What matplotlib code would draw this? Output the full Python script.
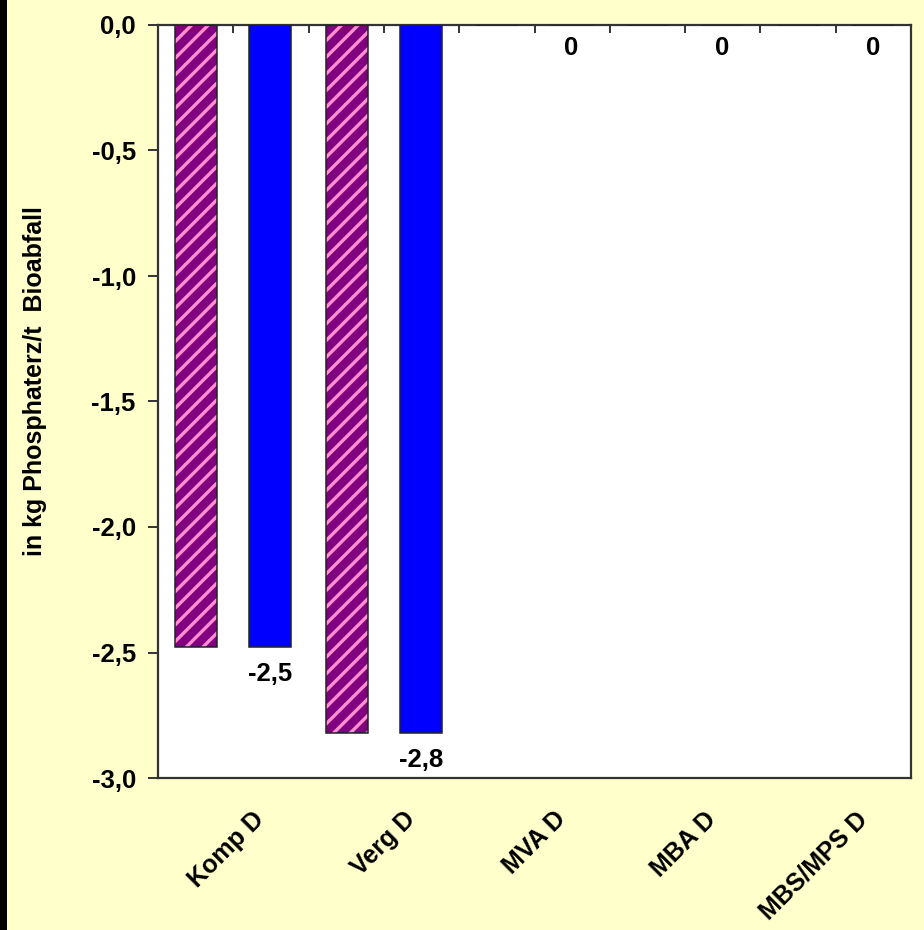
import matplotlib
matplotlib.use("Agg")
import matplotlib.pyplot as plt
import matplotlib.transforms as mtransforms
from matplotlib.patches import Rectangle
from matplotlib.ticker import FuncFormatter, FixedLocator

# data
categories = ["Komp D", "Verg D", "MVA D", "MBA D", "MBS/MPS D"]
hatched_vals = [-2.48, -2.82, 0, 0, 0]
blue_vals = [-2.48, -2.82, 0, 0, 0]
blue_labels = ["-2,5", "-2,8", "0", "0", "0"]
ylabel = "in kg Phosphaterz/t  Bioabfall"

bg = "#FFFFCC"
purple = "#800080"
pink = "#FF8FD0"
blue = "#0000FF"
frame = "#333333"

plt.rcParams["font.family"] = ["Liberation Sans", "DejaVu Sans"]
plt.rcParams["font.weight"] = "bold"
plt.rcParams["hatch.linewidth"] = 2.4

fig = plt.figure(figsize=(9.24, 9.30), dpi=100, facecolor=bg)
ax = fig.add_axes([158 / 924, 1 - 778 / 930, 753 / 924, 753 / 930])
ax.set_facecolor("white")

# black strip on the left edge
fig.patches.append(Rectangle((0, 0), 7 / 924, 1, transform=fig.transFigure,
                             facecolor="black", edgecolor="none"))

x = list(range(len(categories)))
off = 0.246
w = 0.279
xh = [i - off for i in x]
xb = [i + off for i in x]

# hatched bars: purple with pink stripes, then black outline
ax.bar(xh, hatched_vals, width=w, color=purple, edgecolor=pink, hatch="//",
       linewidth=0, zorder=2)
ax.bar(xh, hatched_vals, width=w, fill=False, edgecolor="#222222",
       linewidth=1.1, zorder=3)
ax.bar(xb, blue_vals, width=w, color=blue, edgecolor="#222222",
       linewidth=1.1, zorder=3)

for xi, v, lab in zip(xb, blue_vals, blue_labels):
    dy = -23 if v == 0 else -27
    ax.annotate(lab, (xi, v), xytext=(0, dy * 0.72), textcoords="offset points",
                ha="center", va="center", fontsize=18.5, fontweight="bold")

ax.set_xlim(-0.5, 4.5)
ax.set_ylim(-3.0, 0.0)
ax.set_yticks([0, -0.5, -1.0, -1.5, -2.0, -2.5, -3.0])
ax.yaxis.set_major_formatter(FuncFormatter(lambda v, p: f"{v:.1f}".replace(".", ",").replace("-0,0", "0,0")))
ax.tick_params(axis="y", direction="out", length=7, width=1.4, color=frame,
               labelsize=18.5, pad=9)

ax.set_xticks(x)
ax.set_xticklabels(categories, rotation=45, ha="right", rotation_mode="anchor",
                   fontsize=18)
ax.xaxis.remove_overlapping_locs = False
ax.xaxis.set_minor_locator(FixedLocator([i * 0.5 for i in range(9)]))
ax.tick_params(axis="x", which="major", length=0, pad=21)
ax.tick_params(axis="x", which="minor", top=True, bottom=False, direction="in",
               length=5.5, width=1.4, color=frame)

shift = mtransforms.ScaledTranslation(19 / 100, 0, fig.dpi_scale_trans)
for t in ax.get_xticklabels():
    t.set_transform(t.get_transform() + shift)

for s in ax.spines.values():
    s.set_color(frame)
    s.set_linewidth(1.6)

ax.set_ylabel(ylabel, fontsize=18, fontweight="bold")
ax.yaxis.set_label_coords(-0.147, 0.527)

fig.savefig("out.png", dpi=100, facecolor=bg)
